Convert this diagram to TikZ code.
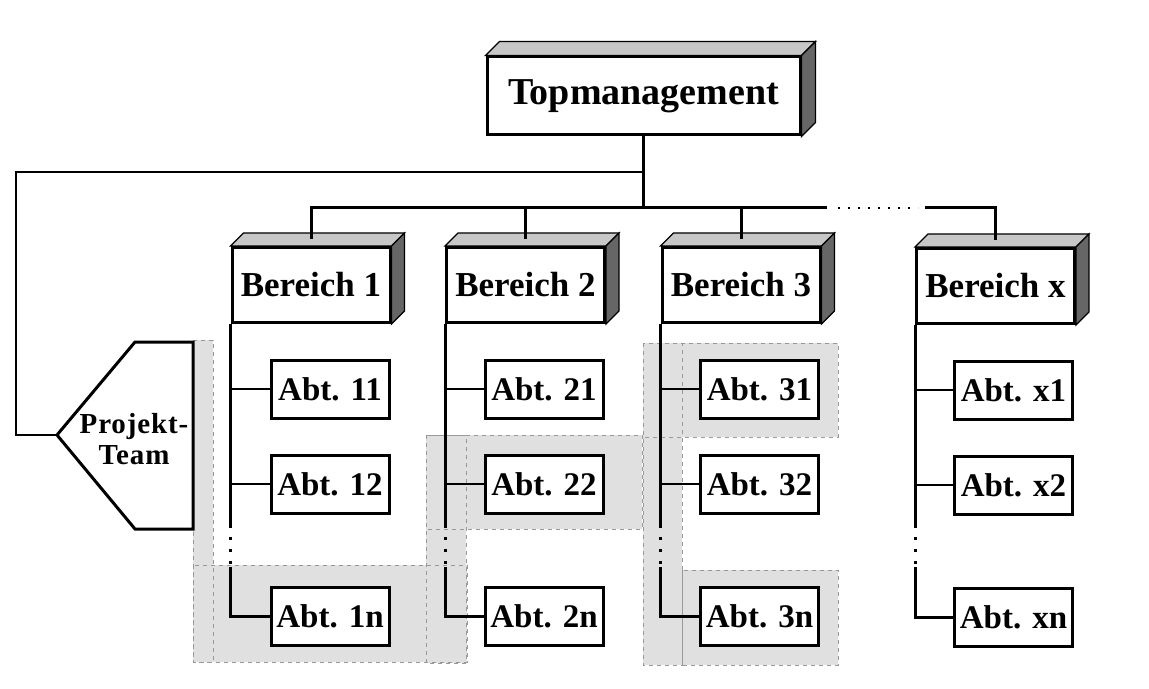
\documentclass[tikz,border=0pt]{standalone}
\usepackage{fontspec}
\setmainfont{Liberation Serif}
\usetikzlibrary{calc}
\tikzset{
  box/.style={draw, line width=1.5pt, fill=white, inner sep=0pt},
  topbox/.style={box, minimum width=156.5pt, minimum height=39pt, font=\fontsize{19}{21}\selectfont\bfseries},
  berbox/.style={box, minimum width=79pt, minimum height=37.5pt, font=\fontsize{17.5}{19}\selectfont\bfseries},
  abtbox/.style={box, minimum width=59pt, minimum height=29pt, font=\fontsize{16.5}{18}\selectfont\bfseries},
  ptext/.style={align=center, inner sep=0pt, font=\fontsize{14.5}{15.5}\selectfont\bfseries\addfontfeature{LetterSpace=3}},
  topface/.style={draw, line width=0.6pt, fill=black!22},
  sideface/.style={draw, line width=0.6pt, fill=black!60},
  bus/.style={line width=1.5pt},
  thinline/.style={line width=1pt},
  trunk/.style={line width=1.5pt},
  branch/.style={line width=1.1pt},
  dotsv/.style={line width=1.5pt, dash pattern=on 1.5pt off 4.5pt},
  dotsh/.style={line width=1.2pt, dash pattern=on 1pt off 4pt},
  zonefill/.style={fill=black!12},
  zoneline/.style={draw=black!40, line width=0.5pt, dash pattern=on 2pt off 2pt},
}
\newcommand\dreiD[2]{%
  \path[topface] (#1.north west) -- ++(#2,-#2) -- ($(#1.north east)+(#2,-#2)$) -- (#1.north east) -- cycle;
  \path[sideface] (#1.north east) -- ++(#2,-#2) -- ($(#1.south east)+(#2,-#2)$) -- (#1.south east) -- cycle;
}
\begin{document}
\begin{tikzpicture}[x=0.5pt,y=-0.5pt]
\useasboundingbox (0,0) rectangle (1149,689);
% shaded zones
\fill[zonefill] (193,340) rectangle (213,662);
\fill[zonefill] (193,565) rectangle (467,662);
\fill[zonefill] (426,435) rectangle (642,529);
\fill[zonefill] (426,435) rectangle (466,663);
\fill[zonefill] (643,343) rectangle (682,665);
\fill[zonefill] (643,343) rectangle (838,437);
\fill[zonefill] (682,570) rectangle (838,665);
\draw[zoneline] (193,340) rectangle (213,662);
\draw[zoneline] (193,565) rectangle (467,662);
\draw[zoneline] (426,435) rectangle (642,529);
\draw[zoneline] (426,435) rectangle (466,663);
\draw[zoneline] (643,343) rectangle (682,665);
\draw[zoneline] (643,343) rectangle (838,437);
\draw[zoneline] (682,570) rectangle (838,665);

% coordinates
\coordinate (busend) at (827,208);
\coordinate (busx) at (925,208);
\coordinate (dotA) at (838,208);
\coordinate (dotB) at (918,208);
\coordinate (tl) at (16,172);
\coordinate (pttip) at (57,435);
\coordinate (tend) at (0,528);
\coordinate (dstart) at (0,537);
\coordinate (dend) at (0,565);
\coordinate (tstart) at (0,567);

% boxes
\node[topbox] (tm) at (643.5,96) {Topmanagement};
\node[berbox] (b1) at (311,285) {Bereich 1};
\node[berbox] (b2) at (525.5,285) {Bereich 2};
\node[berbox] (b3) at (741,285) {Bereich 3};
\node[berbox] (bx) at (995.5,286) {Bereich x};
\dreiD{tm}{14}
\dreiD{b1}{13}
\dreiD{b2}{13}
\dreiD{b3}{13}
\dreiD{bx}{13}

\node[abtbox] (a11) at (330,389) {Abt. 11};
\node[abtbox] (a12) at (330,484) {Abt. 12};
\node[abtbox] (a1n) at (330,616) {Abt. 1n};
\node[abtbox] (a21) at (544,389) {Abt. 21};
\node[abtbox] (a22) at (544,484) {Abt. 22};
\node[abtbox] (a2n) at (544,616) {Abt. 2n};
\node[abtbox] (a31) at (759.5,389) {Abt. 31};
\node[abtbox] (a32) at (759.5,484) {Abt. 32};
\node[abtbox] (a3n) at (759.5,616) {Abt. 3n};
\node[abtbox] (ax1) at (1013.5,390) {Abt. x1};
\node[abtbox] (ax2) at (1013.5,485) {Abt. x2};
\node[abtbox] (axn) at (1013.5,617) {Abt. xn};

% Projekt-Team
\draw[box] (pttip) -- (135,342) -- (193,342) -- (193,529) -- (135,529) -- cycle;
\node[ptext] (pt) at (134,439) {Projekt-\\Team};

% top connectors
\draw[bus] (tm.south) -- (tm.south |- busend);
\draw[bus] ($(b1.north)+(0,-7)$) |- (busend);
\draw[bus] ($(b2.north)+(0,-7)$) -- (b2.north |- busend);
\draw[bus] ($(b3.north)+(0,-7)$) -- (b3.north |- busend);
\draw[dotsh] (dotA) -- (dotB);
\draw[bus] (busx) -| ($(bx.north)+(0,-7)$);
\draw[thinline] (tm.south |- tl) -- (tl) |- (pttip);

% trunks
\foreach \b/\c in {b1/1, b2/2, b3/3, bx/x}{
  \draw[trunk] (\b.south west) -- (\b.south west |- tend);
  \draw[dotsv] (\b.south west |- dstart) -- (\b.south west |- dend);
  \draw[trunk] (\b.south west |- tstart) |- (a\c n.west);
  \draw[branch] (\b.south west |- a\c1.west) -- (a\c1.west);
  \draw[branch] (\b.south west |- a\c2.west) -- (a\c2.west);
}
\end{tikzpicture}
\end{document}
